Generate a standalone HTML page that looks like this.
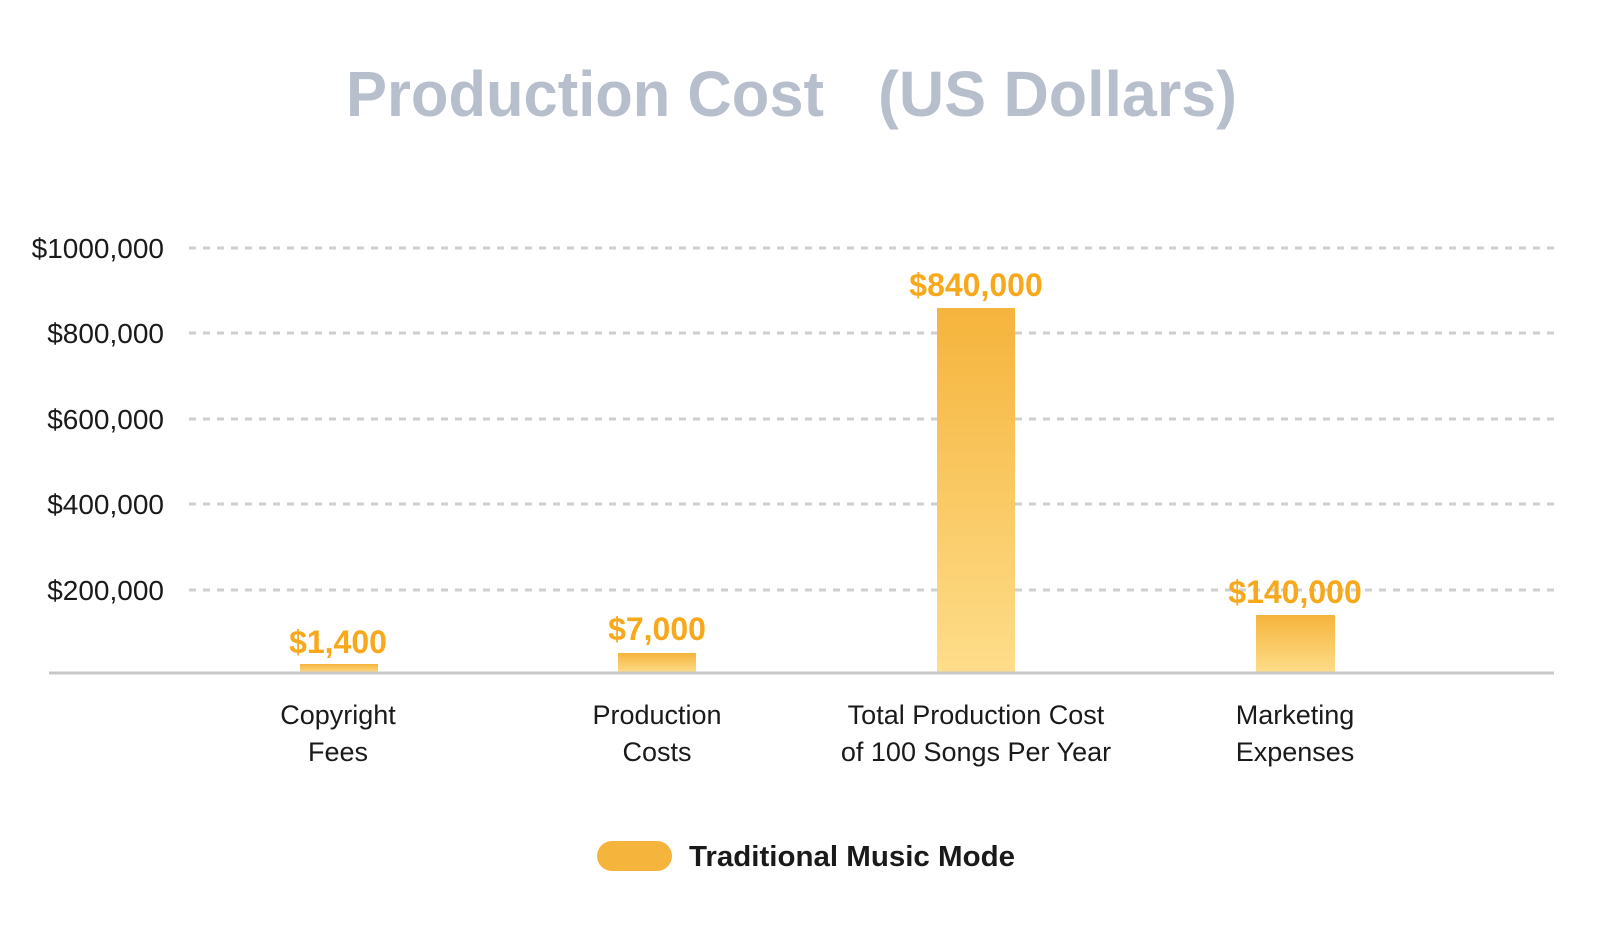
<!DOCTYPE html>
<html><head><meta charset="utf-8"><style>
body{margin:0;background:#fff;width:1620px;height:935px;overflow:hidden}
svg text{font-family:"Liberation Sans","Noto Sans CJK SC",sans-serif}
</style></head><body>
<svg width="1620" height="935" viewBox="0 0 1620 935" xmlns="http://www.w3.org/2000/svg">
<defs><linearGradient id="g" x1="0" y1="0" x2="0" y2="1"><stop offset="0" stop-color="#f5b43c"/><stop offset="1" stop-color="#fedd8a"/></linearGradient></defs>
<text x="346" y="116" font-size="64" font-weight="bold" fill="#b8bfcc" textLength="478" lengthAdjust="spacingAndGlyphs">Production Cost</text>
<text x="878" y="116" font-size="64" font-weight="bold" fill="#b8bfcc" textLength="359" lengthAdjust="spacingAndGlyphs">(US Dollars)</text>
<g stroke="#cfcfcf" stroke-width="3" stroke-dasharray="7,7">
<line x1="189" y1="248" x2="1554" y2="248"/><line x1="189" y1="333" x2="1554" y2="333"/><line x1="189" y1="419" x2="1554" y2="419"/><line x1="189" y1="504" x2="1554" y2="504"/><line x1="189" y1="590" x2="1554" y2="590"/>
</g>
<g font-size="28" fill="#1a1a1a" text-anchor="end">
<text x="164" y="258">$1000,000</text><text x="164" y="343">$800,000</text><text x="164" y="429">$600,000</text><text x="164" y="514">$400,000</text><text x="164" y="600">$200,000</text>
</g>
<rect x="300" y="664" width="78" height="9" fill="url(#g)"/>
<rect x="618" y="653" width="78" height="20" fill="url(#g)"/>
<rect x="937" y="308" width="78" height="365" fill="url(#g)"/>
<rect x="1256" y="615" width="79" height="58" fill="url(#g)"/>
<line x1="49" y1="673" x2="1554" y2="673" stroke="#c8c8c8" stroke-width="3"/>
<g font-size="32" font-weight="bold" fill="#f7a81b" text-anchor="middle">
<text x="338" y="653">$1,400</text><text x="657" y="640">$7,000</text><text x="976" y="296">$840,000</text><text x="1295" y="603">$140,000</text>
</g>
<g font-size="27" fill="#1a1a1a" text-anchor="middle">
<text x="338" y="724">Copyright</text><text x="338" y="761">Fees</text>
<text x="657" y="724">Production</text><text x="657" y="761">Costs</text>
<text x="976" y="724">Total Production Cost</text><text x="976" y="761">of 100 Songs Per Year</text>
<text x="1295" y="724">Marketing</text><text x="1295" y="761">Expenses</text>
</g>
<rect x="597" y="841" width="75" height="30" rx="15" fill="#f5b43c"/>
<text x="689" y="866" font-size="29" font-weight="bold" fill="#1a1a1a" textLength="326" lengthAdjust="spacingAndGlyphs">Traditional Music Mode</text>
</svg>
</body></html>
